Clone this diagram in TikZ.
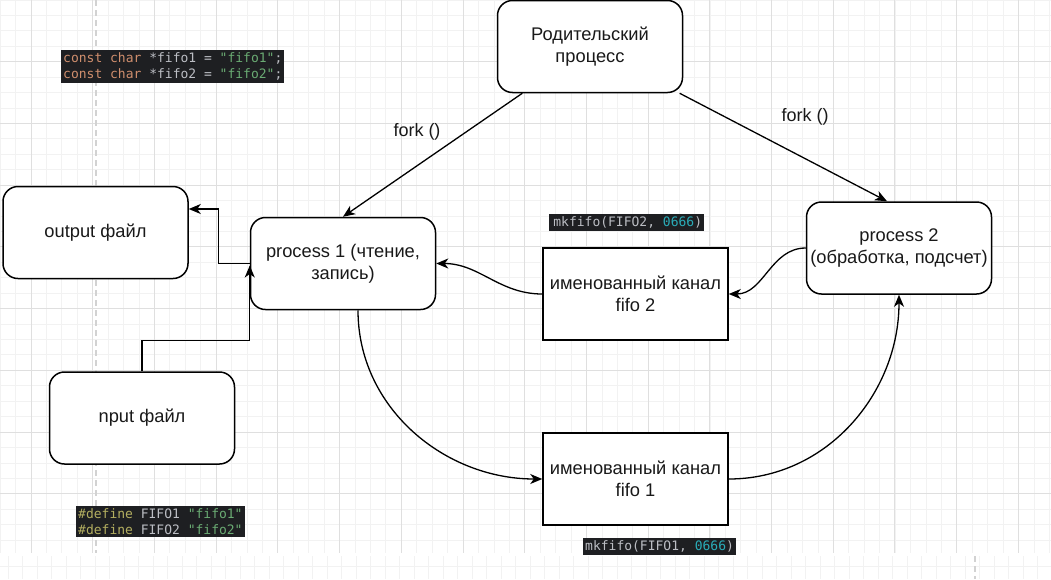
\documentclass[tikz,border=0pt]{standalone}
\usepackage{fontspec}
\setmainfont{Liberation Sans}
\newfontfamily\codefont{DejaVu Sans Mono}
\usetikzlibrary{arrows.meta}
\definecolor{codebg}{HTML}{1E1F22}
\definecolor{codefg}{HTML}{BCBEC4}
\definecolor{kw}{HTML}{CF8E6D}
\definecolor{str}{HTML}{6AAB73}
\definecolor{num}{HTML}{2AACB8}
\definecolor{prep}{HTML}{B3AE60}
\tikzstyle{box} = [draw=black, fill=white, line width=1.5pt, minimum width=185pt, minimum height=92pt, align=center, text=black!90, font={\fontsize{18.3}{22}\selectfont}]
\tikzstyle{proc} = [box, rounded corners=15pt]
\tikzstyle{chan} = [box]
\tikzstyle{code} = [fill=codebg, text=codefg, inner xsep=2pt, inner ysep=2.5pt, align=left, anchor=north west, font={\codefont\fontsize{13}{16}\selectfont}]
\tikzstyle{link} = [line width=1.3pt, -{Stealth[length=12pt,width=10pt,inset=3.5pt]}]
\tikzstyle{lbl} = [text=black!90, font={\fontsize{18}{22}\selectfont}]
\tikzstyle{gridminor} = [gray!10, line width=0.8pt]
\tikzstyle{gridmajor} = [gray!25, line width=0.8pt]

\begin{document}
\begin{tikzpicture}[x=1pt,y=1pt]
  % background grid
  \fill[white] (0,0) rectangle (1051,-579);
  \useasboundingbox (0,0) rectangle (1051,-579);
  \foreach \k in {0,...,68} \draw[gridminor] (0.14+\k*15.43,0) -- ++(0,-579);
  \foreach \k in {0,...,37} \draw[gridminor] (0,-\k*15.43) -- ++(1051,0);
  \foreach \k in {0,...,16} \draw[gridmajor] (31+\k*61.7,0) -- ++(0,-579);
  \foreach \k in {1,...,9} \draw[gridmajor] (0,-\k*61.7) -- ++(1051,0);
  \draw[gray!35, line width=1.2pt, dash pattern=on 6pt off 4pt] (96,0) -- (96,-553);
  \fill[white] (0,-553) rectangle (1051,-579);
  \foreach \k in {0,...,72} \draw[gridminor] (8+\k*14.5,-556) -- ++(0,-23);
  \draw[gridminor] (0,-566) -- ++(1051,0);
  \draw[gray!35, line width=1.2pt, dash pattern=on 6pt off 4pt] (975,-556) -- (975,-579);

  \node[proc](parent) at (590,-46.5){Родительский\\процесс};
  \node[proc](p1) at (343,-263.5){process 1 (чтение,\\запись)};
  \node[proc](p2) at (899,-248){process 2\\(обработка, подсчет)};
  \node[proc](out) at (95.5,-232.5){output файл};
  \node[proc](in) at (142,-418){nput файл};
  \node[chan](f2) at (635.5,-294){именованный канал\\fifo 2};
  \node[chan](f1) at (635.5,-479){именованный канал\\fifo 1};

  \node[lbl](fork1) at (417,-132){fork ()};
  \node[lbl](fork2) at (805,-117){fork ()};

  \node[code](decl) at (61,-50){\textcolor{kw}{const char} *fifo1 = \textcolor{str}{"fifo1"};\\\textcolor{kw}{const char} *fifo2 = \textcolor{str}{"fifo2"};};
  \node[code](defs) at (76,-506){\textcolor{prep}{\#define} FIFO1 \textcolor{str}{"fifo1"}\\\textcolor{prep}{\#define} FIFO2 \textcolor{str}{"fifo2"}};
  \node[code](mk2) at (549,-214){\,mkfifo(FIFO2, \textcolor{num}{0666})};
  \node[code](mk1) at (583,-538){mkfifo(FIFO1, \textcolor{num}{0666})};

  \draw[link](parent)--(p1.north);
  \draw[link](parent)--([xshift=-12pt]p2.north);
  \draw[link](p1.west)--++(-31,0)|-([yshift=23.5pt]out.east);
  \draw[link](in.north)--++(0,31)-|([yshift=-2pt]p1.west);
  \draw[link](f2.west) to[out=180,in=0] (p1.east);
  \draw[link](p2.west) to[out=180,in=0] (f2.east);
  \draw[link]([xshift=15pt]p1.south) to[out=-90,in=180] (f1.west);
  \draw[link](f1.east) to[out=0,in=-90] (p2.south);
\end{tikzpicture}
\end{document}
